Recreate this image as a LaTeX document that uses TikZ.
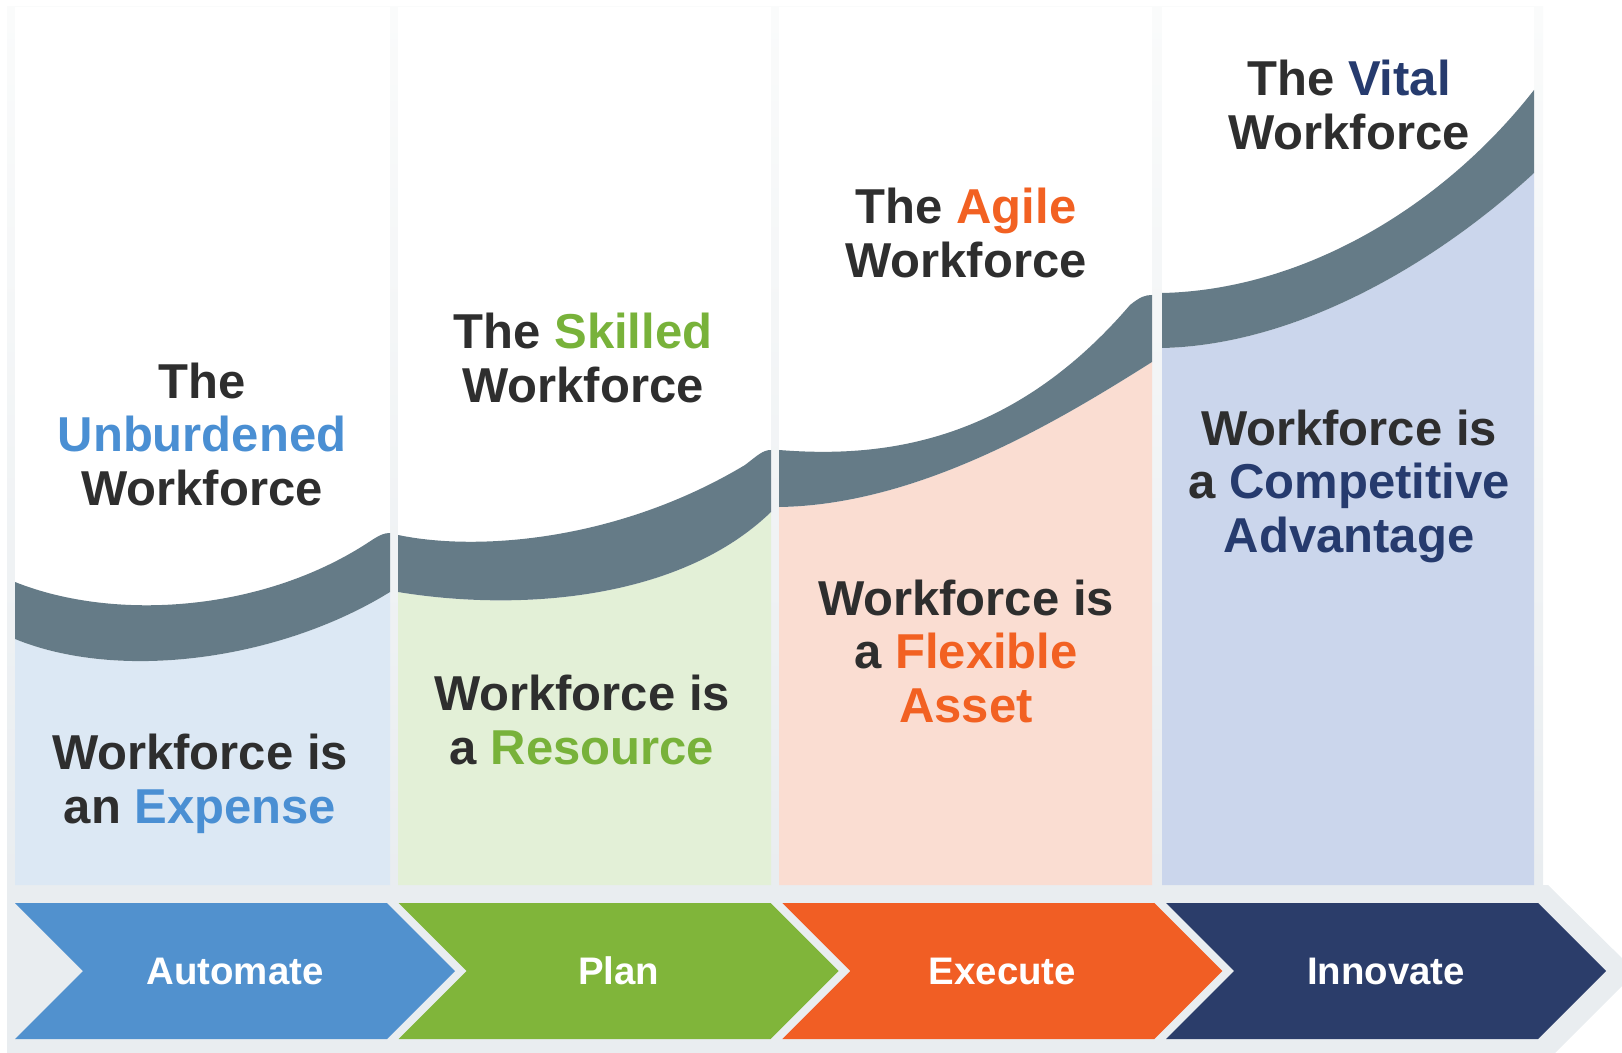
\documentclass[tikz,border=0pt]{standalone}
\usepackage{fontspec}
\setmainfont{Liberation Sans}
\usepackage{xcolor}

\definecolor{bandgray}{HTML}{657B87}
\definecolor{framegray}{HTML}{E9EDF0}
\definecolor{framelight}{HTML}{FAFBFB}
\definecolor{inkdark}{HTML}{2E2E2E}
\definecolor{fillA}{HTML}{DCE8F4}
\definecolor{fillB}{HTML}{E3F0D7}
\definecolor{fillC}{HTML}{FADDD2}
\definecolor{fillD}{HTML}{CBD6EC}
\definecolor{chevA}{HTML}{5191CE}
\definecolor{chevB}{HTML}{80B53A}
\definecolor{chevC}{HTML}{F15E24}
\definecolor{chevD}{HTML}{2B3D6A}
\definecolor{accA}{HTML}{4A8FD3}
\definecolor{accB}{HTML}{78B23A}
\definecolor{accC}{HTML}{F26122}
\definecolor{accD}{HTML}{263B6E}

\begin{document}
\begin{tikzpicture}[x=0.5pt,y=-0.5pt,node distance=191.85pt,
    head/.style={align=center,inner sep=0pt,text=inkdark,font=\fontsize{24.5}{26.75}\selectfont\bfseries},
    chev label/.style={inner sep=0pt,text=white,font=\fontsize{19.2}{22}\selectfont\bfseries}]

    \useasboundingbox (0,0) rectangle (1622,1053);
    \clip (0,0) rectangle (1622,1053);

    % frame and bottom strip
    \fill[top color=framelight,bottom color=framegray] (7,7) rectangle (1543,885);
    \fill[framegray] (7,885) -- (1548,885) -- (1636,972) -- (1555,1053) -- (7,1053) -- cycle;

    % column 1
    \fill[white] (15,7) rectangle (390,885);
    \fill[fillA] (15,639) .. controls (120,682) and (280,660) .. (390,592) -- (390,885) -- (15,885) -- cycle;
    \fill[bandgray] (15,582) .. controls (115,622) and (265,612) .. (372,540) .. controls (380,535) and (384,533) .. (390,533)
        -- (390,592) .. controls (280,660) and (120,682) .. (15,639) -- cycle;

    % column 2
    \fill[white] (398,7) rectangle (771,885);
    \fill[fillB] (398,592) .. controls (520,612) and (680,600) .. (771,512) -- (771,885) -- (398,885) -- cycle;
    \fill[bandgray] (398,535) .. controls (480,552) and (620,540) .. (745,465) .. controls (758,455) and (763,450) .. (771,450)
        -- (771,512) .. controls (680,600) and (520,612) .. (398,592) -- cycle;

    % column 3
    \fill[white] (779,7) rectangle (1152,885);
    \fill[fillC] (779,507) .. controls (920,505) and (1060,420) .. (1152,362) -- (1152,885) -- (779,885) -- cycle;
    \fill[bandgray] (779,450) .. controls (880,458) and (1010,445) .. (1130,305) .. controls (1140,297) and (1145,295) .. (1152,295)
        -- (1152,362) .. controls (1060,420) and (920,505) .. (779,507) -- cycle;

    % column 4
    \fill[white] (1162,7) rectangle (1534,885);
    \fill[fillD] (1162,348) .. controls (1300,345) and (1440,260) .. (1534,173) -- (1534,885) -- (1162,885) -- cycle;
    \fill[bandgray] (1162,293) .. controls (1300,290) and (1440,210) .. (1534,90)
        -- (1534,173) .. controls (1440,260) and (1300,345) .. (1162,348) -- cycle;

    % chevrons
    \foreach \c [count=\i from 0] in {chevA,chevB,chevC,chevD}
        \fill[\c] ({15+383.7*\i},903) -- ++(372,0) -- ++(68,68) -- ++(-68,68) -- ++(-372,0) -- ++(68,-68) -- cycle;

    \node[chev label] (s1) at (235,971) {Automate};
    \node[chev label] (s2) [right of = s1] {Plan};
    \node[chev label] (s3) [right of = s2] {Execute};
    \node[chev label] (s4) [right of = s3] {Innovate};

    \node[head] (t1) at (202,434) {The\\\textcolor{accA}{Unburdened}\\Workforce};
    \node[head] (t2) at (583,358) {The \textcolor{accB}{Skilled}\\Workforce};
    \node[head] (t3) at (966,233) {The \textcolor{accC}{Agile}\\Workforce};
    \node[head] (t4) at (1349,105) {The \textcolor{accD}{Vital}\\Workforce};

    \node[head] (b1) at (200,784) {Workforce is\\an \textcolor{accA}{Expense}};
    \node[head] (b2) at (582,720) {Workforce is\\a \textcolor{accB}{Resource}};
    \node[head] (b3) at (966,651) {Workforce is\\a \textcolor{accC}{Flexible}\\\textcolor{accC}{Asset}};
    \node[head] (b4) at (1349,486) {Workforce is\\a \textcolor{accD}{Competitive}\\\textcolor{accD}{Advantage}};
\end{tikzpicture}
\end{document}
